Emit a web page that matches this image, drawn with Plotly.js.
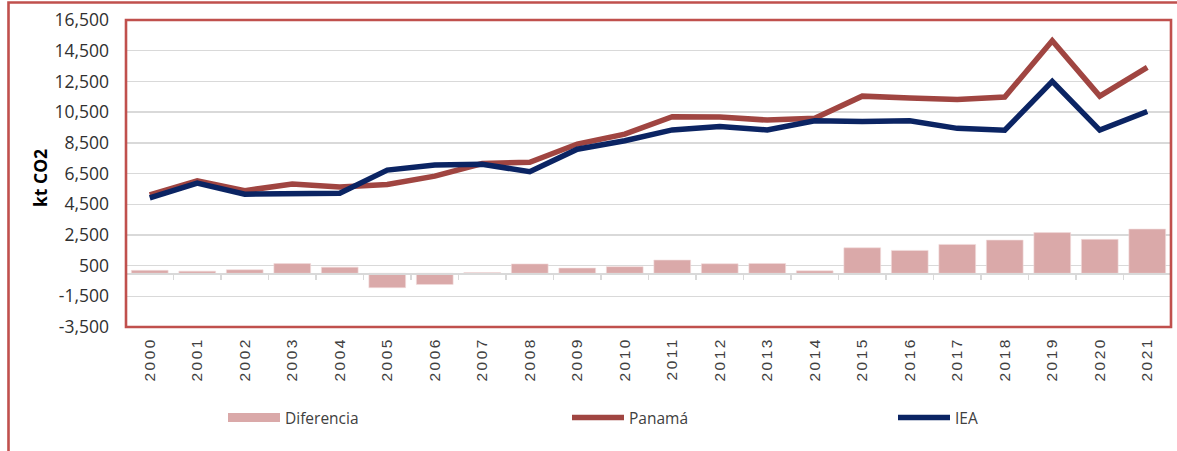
<!DOCTYPE html>
<html>
<head>
<meta charset="utf-8">
<script src="https://cdn.plot.ly/plotly-3.0.1.min.js"></script>
<style>
  html, body { margin: 0; padding: 0; background: #ffffff; }
  #chart { width: 1177px; height: 451px; }
  .xtick text { letter-spacing: 2.5px; }
</style>
</head>
<body>
<div id="chart"></div>
<script>
// ---- data ----
const years = ["2000","2001","2002","2003","2004","2005","2006","2007","2008","2009","2010",
               "2011","2012","2013","2014","2015","2016","2017","2018","2019","2020","2021"];
const panama = [5100, 6020, 5380, 5820, 5620, 5780, 6330, 7150, 7230, 8420, 9060,
                10200, 10180, 9980, 10100, 11540, 11420, 11320, 11480, 15150, 11540, 13420];
const iea = [4910, 5880, 5150, 5190, 5220, 6720, 7060, 7100, 6620, 8080, 8630,
             9340, 9560, 9340, 9940, 9880, 9930, 9440, 9320, 12500, 9330, 10540];
const diferencia = [190, 140, 230, 630, 400, -940, -730, 50, 610, 340, 430,
                    860, 620, 640, 160, 1660, 1490, 1880, 2160, 2650, 2210, 2880];
const yTickVals = [-3500, -1500, 500, 2500, 4500, 6500, 8500, 10500, 12500, 14500, 16500];
const yTickText = ["-3,500", "-1,500", "500", "2,500", "4,500", "6,500", "8,500",
                   "10,500", "12,500", "14,500", "16,500"];
const seriesNames = ["Diferencia", "Panamá", "IEA"];
const yTitle = "kt CO2";

// ---- styling ----
const RED_BORDER = "#C0504D";
const GRID = "#D9D9D9";
const TXT = "#404040";
const BAR_COLOR = "#DAA9A9";

const traces = [
  // legend entry for the bars (wide swatch like the reference); draws nothing
  {
    type: "scatter", mode: "lines", name: seriesNames[0], x: years, y: years.map(() => null),
    line: { color: BAR_COLOR, width: 9 }, hoverinfo: "skip", legend: "legend"
  },
  {
    type: "bar", name: seriesNames[0], x: years, y: diferencia,
    marker: { color: BAR_COLOR, line: { color: "#F2DCDC", width: 0.6 } },
    showlegend: false, hoverinfo: "x+y"
  },
  {
    type: "scatter", mode: "lines", name: seriesNames[1], x: years, y: panama,
    line: { color: "#A04541", width: 5.5 }, legend: "legend2"
  },
  {
    type: "scatter", mode: "lines", name: seriesNames[2], x: years, y: iea,
    line: { color: "#0B2463", width: 5.5 }, legend: "legend3"
  },
  // helper trace so the category axis drawn along the zero line gets its ticks
  {
    type: "scatter", mode: "lines", x: years, y: years.map(() => 0),
    xaxis: "x2", yaxis: "y", line: { width: 0, color: "rgba(0,0,0,0)" },
    opacity: 0, showlegend: false, hoverinfo: "skip"
  }
];

const plotLeft = 126, plotRight = 1171, plotTop = 20, plotBottom = 327;
const W = 1177, H = 451;
const pw = plotRight - plotLeft, ph = plotBottom - plotTop;
const px2x = (px) => (px - plotLeft) / pw;
const py2y = (py) => 1 - (py - plotTop) / ph;

function legendAt(pxLeft) {
  return {
    orientation: "h", x: px2x(pxLeft), xanchor: "left", y: py2y(418), yanchor: "middle",
    itemwidth: 52,
    font: { family: "Open Sans, Noto Sans, sans-serif", size: 15.5, color: TXT },
    bgcolor: "rgba(0,0,0,0)", borderwidth: 0
  };
}

const layout = {
  width: W, height: H,
  paper_bgcolor: "#ffffff", plot_bgcolor: "#ffffff",
  margin: { l: plotLeft, r: W - plotRight, t: plotTop, b: H - plotBottom, pad: 0 },
  font: { family: "Open Sans, Noto Sans, sans-serif", color: TXT },
  showlegend: true,
  bargap: 0.227,
  xaxis: {
    type: "category", categoryorder: "array", categoryarray: years,
    range: [-0.5, years.length - 0.5],
    showgrid: false, showline: false, zeroline: false, ticks: "",
    tickangle: -90, ticklabelstandoff: 6,
    tickfont: { family: "Liberation Sans, Arial, sans-serif", size: 15.5, color: TXT },
    fixedrange: true
  },
  xaxis2: {
    type: "category", categoryorder: "array", categoryarray: years,
    range: [-0.5, years.length - 0.5],
    overlaying: "x", anchor: "free", position: 0.175, side: "bottom",
    showgrid: false, zeroline: false, showticklabels: false,
    showline: true, linecolor: GRID, linewidth: 1.8,
    ticks: "outside", tickson: "boundaries", ticklen: 5, tickwidth: 1.5, tickcolor: GRID,
    fixedrange: true
  },
  yaxis: {
    range: [-3500, 16500],
    tickvals: yTickVals, ticktext: yTickText,
    showgrid: true, gridcolor: GRID, gridwidth: 1.4,
    zeroline: false, showline: false, ticks: "",
    ticklabelstandoff: 16,
    tickfont: { family: "Open Sans, Noto Sans, sans-serif", size: 17.5, color: "#303030" },
    fixedrange: true
  },
  legend: legendAt(223),
  legend2: legendAt(567),
  legend3: legendAt(893),
  annotations: [
    {
      text: "<b>" + yTitle + "</b>", xref: "paper", yref: "paper",
      x: px2x(40), y: py2y(178), xanchor: "center", yanchor: "middle",
      textangle: -90, showarrow: false,
      font: { family: "Open Sans, Noto Sans, sans-serif", size: 17.5, color: "#000000" }
    }
  ],
  shapes: [
    // plot-area border
    {
      type: "rect", xref: "paper", yref: "paper", x0: 0, x1: 1, y0: 0, y1: 1,
      line: { color: RED_BORDER, width: 2.6 }, layer: "above"
    },
    // outer chart frame (top and left edges visible, rest cropped)
    {
      type: "rect", xref: "paper", yref: "paper",
      x0: px2x(8.5), x1: px2x(W + 10), y0: py2y(H + 10), y1: py2y(2.5),
      line: { color: RED_BORDER, width: 2.6 }, layer: "above"
    }
  ]
};

Plotly.newPlot("chart", traces, layout, { displayModeBar: false, staticPlot: true });
</script>
</body>
</html>
